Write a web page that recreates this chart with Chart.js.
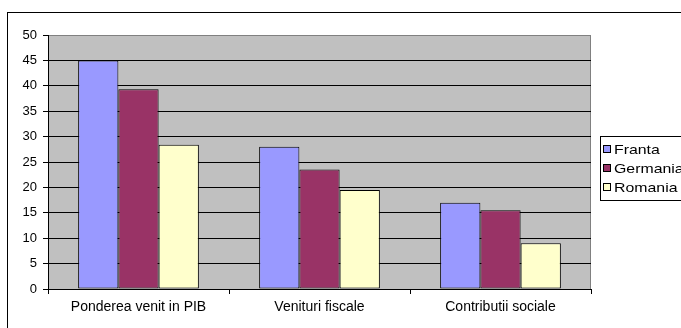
<!DOCTYPE html>
<html>
<head>
<meta charset="utf-8">
<script src="https://cdn.jsdelivr.net/npm/chart.js@4/dist/chart.umd.min.js"></script>
<style>
  html, body { margin: 0; padding: 0; background: #fff; }
  #wrap { width: 681px; height: 328px; position: relative; }
</style>
</head>
<body>
<div id="wrap"><canvas id="chart"></canvas></div>
<script>
const categories = ['Ponderea venit in PIB', 'Venituri fiscale', 'Contributii sociale'];
const franta = [45, 28, 17];
const germania = [39.3, 23.5, 15.5];
const romania = [28.4, 19.5, 9];
const seriesNames = ['Franta', 'Germania', 'Romania'];
const seriesColors = ['#9999FF', '#993366', '#FFFFCC'];
const yTicks = [0, 5, 10, 15, 20, 25, 30, 35, 40, 45, 50];

const FONT = '"Liberation Sans", Arial, sans-serif';

// plot area fill + outer chart frame + boxed legend (Excel look)
const excelFrame = {
  id: 'excelFrame',
  beforeDraw(chart) {
    const { ctx, chartArea: a } = chart;
    ctx.save();
    ctx.fillStyle = '#fff';
    ctx.fillRect(0, 0, chart.width, chart.height);
    ctx.strokeStyle = '#000';
    ctx.lineWidth = 1;
    ctx.strokeRect(7.5, 12.5, 720, 400);
    ctx.fillStyle = '#C0C0C0';
    ctx.fillRect(a.left, a.top, a.right - a.left, a.bottom - a.top);
    ctx.strokeStyle = '#808080';
    ctx.strokeRect(a.left + 0.5, a.top + 0.5, a.right - a.left - 1, a.bottom - a.top);
    ctx.restore();
  },
  afterDraw(chart) {
    const { ctx } = chart;
    const bx = 600, by = 136, bh = 64, rowH = 19;
    ctx.save();
    ctx.fillStyle = '#fff';
    ctx.fillRect(bx, by, 120, bh);
    ctx.strokeStyle = '#000';
    ctx.lineWidth = 1;
    ctx.strokeRect(bx + 0.5, by + 0.5, 120, bh);
    ctx.font = '13px ' + FONT;
    ctx.textBaseline = 'middle';
    chart.data.datasets.forEach((ds, i) => {
      const cy = by + 13 + i * rowH;
      ctx.fillStyle = ds.backgroundColor;
      ctx.fillRect(bx + 3, cy - 4, 8, 8);
      ctx.strokeRect(bx + 3.5, cy - 3.5, 7, 7);
      ctx.fillStyle = '#000';
      ctx.save();
      ctx.translate(bx + 14, cy + 1);
      ctx.scale(1.22, 1);
      ctx.fillText(ds.label, 0, 0);
      ctx.restore();
    });
    ctx.restore();
  }
};

const datasets = [franta, germania, romania].map((data, i) => ({
  label: seriesNames[i],
  data,
  backgroundColor: seriesColors[i],
  borderColor: '#000',
  borderWidth: 1,
  borderSkipped: false,
  categoryPercentage: 0.667,
  barPercentage: 1.0
}));

new Chart(document.getElementById('chart'), {
  type: 'bar',
  data: { labels: categories, datasets },
  options: {
    responsive: true,
    maintainAspectRatio: false,
    animation: false,
    layout: { padding: { top: 35, right: 90, left: 0, bottom: 0 } },
    plugins: { legend: { display: false }, tooltip: { enabled: false } },
    scales: {
      x: {
        afterFit: (s) => { s.height = 39; },
        grid: { display: true, drawOnChartArea: false, offset: true, tickLength: 5, color: '#000' },
        border: { color: '#000' },
        ticks: { color: '#000', font: { family: FONT, size: 14 }, padding: 5, maxRotation: 0 }
      },
      y: {
        min: 0,
        max: 50,
        afterFit: (s) => { s.width = 48; },
        afterBuildTicks: (s) => { s.ticks = yTicks.map(v => ({ value: v })); },
        grid: {
          color: (c) => (c.tick && c.tick.value === 50 ? '#808080' : '#000'),
          tickColor: '#000',
          tickLength: 5,
          drawTicks: true
        },
        border: { color: '#000' },
        ticks: { color: '#000', font: { family: FONT, size: 13 }, padding: 6 }
      }
    }
  },
  plugins: [excelFrame]
});
</script>
</body>
</html>
